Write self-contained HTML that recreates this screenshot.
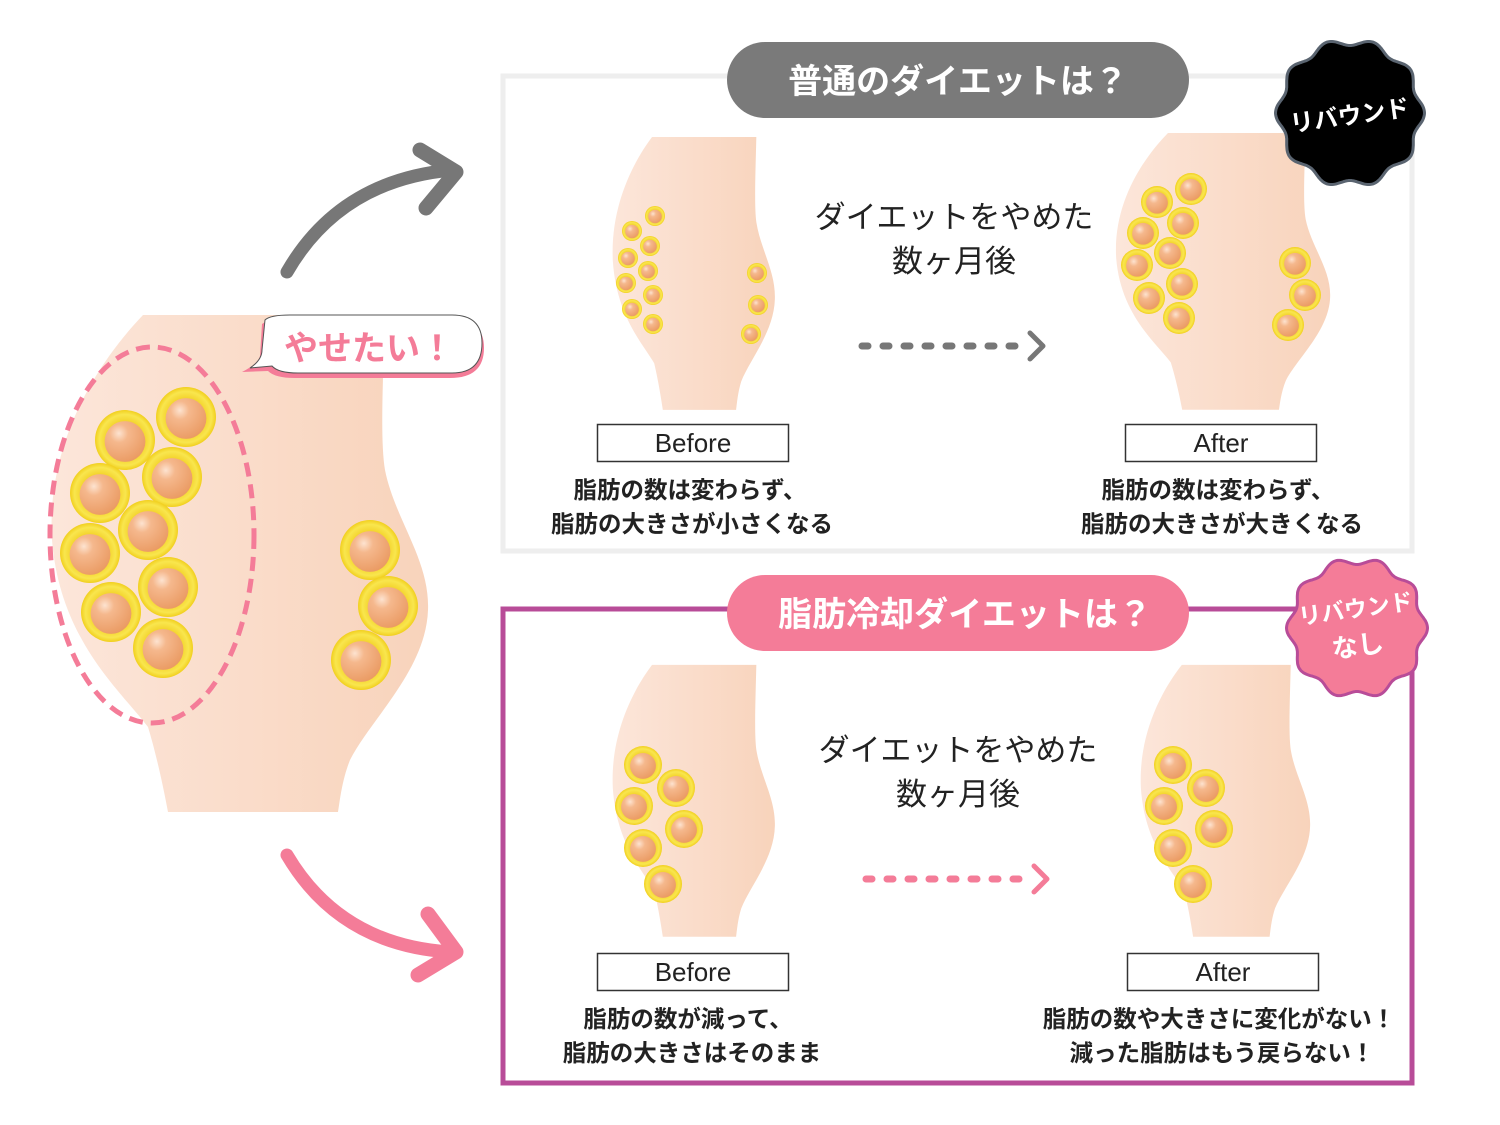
<!DOCTYPE html>
<html><head><meta charset="utf-8">
<style>
html,body{margin:0;padding:0;background:#fff;}
svg{display:block;}
text{font-family:"Liberation Sans","Noto Sans CJK JP",sans-serif;}
.jp{font-family:"Noto Sans CJK JP",sans-serif;}
</style></head>
<body>
<svg id="s" width="1500" height="1125" viewBox="0 0 1500 1125" xmlns="http://www.w3.org/2000/svg">
<defs>
<linearGradient id="skin" x1="0" y1="0" x2="1" y2="0">
<stop offset="0" stop-color="#fce6da"/><stop offset="1" stop-color="#f8d3bb"/>
</linearGradient>
<radialGradient id="ring" cx="0.5" cy="0.5" r="0.5">
<stop offset="0.6" stop-color="#f3d22a"/><stop offset="0.85" stop-color="#f9e64e"/><stop offset="1" stop-color="#f1cf1e"/>
</radialGradient>
<radialGradient id="core" cx="0.35" cy="0.3" r="0.75">
<stop offset="0" stop-color="#fde3d0"/><stop offset="0.3" stop-color="#f5b88d"/><stop offset="1" stop-color="#ea9a62"/>
</radialGradient>
<path id="body" d="M143,315 L385,315 C383,380 380,440 385,470 C395,520 430,560 428,610 C426,670 370,720 350,760 C342,780 340,800 338,812 L168,812 C162,780 155,750 148,727 C120,690 60,640 52,540 C46,440 100,360 143,315 Z"/>
</defs>

<rect x="503" y="76" width="909" height="475" fill="none" stroke="#eeeeee" stroke-width="5"/>
<rect x="503" y="609" width="909" height="474" fill="none" stroke="#b84c98" stroke-width="5"/>

<use href="#body" fill="url(#skin)"/>
<use href="#body" fill="url(#skin)" transform="translate(590.4,-35.9) scale(0.431,0.549)"/>
<use href="#body" fill="url(#skin)" transform="translate(1086.6,-42.5) scale(0.569,0.557)"/>
<use href="#body" fill="url(#skin)" transform="translate(590.4,492.6) scale(0.431,0.547)"/>
<use href="#body" fill="url(#skin)" transform="translate(1117.5,492.6) scale(0.45,0.547)"/>

<g id="cells"></g>

<ellipse cx="152" cy="535" rx="102" ry="188" fill="none" stroke="#f47c98" stroke-width="5" stroke-dasharray="14,8"/>

<path d="M262,324 Q270,318 290,318 L450,318 Q484,318 484,348 Q484,378 450,378 L295,378 Q275,378 268,371 L242,372 Q258,364 260,356 Z" fill="#f47c98"/>
<path d="M265,320 Q270,315 290,315 L452,315 Q482,315 482,343 Q482,373 452,373 L298,373 Q278,373 272,366 L250,368 Q262,360 262,350 Z" fill="#fff" stroke="#555" stroke-width="1"/>
<text x="284" y="360" class="jp" font-size="34" font-weight="bold" fill="#f47c98">やせたい！</text>

<path d="M287,272 Q340,180 452,170" fill="none" stroke="#777" stroke-width="13" stroke-linecap="round"/>
<path d="M420,150 L456,172 L426,208" fill="none" stroke="#777" stroke-width="15" stroke-linecap="round" stroke-linejoin="round"/>
<path d="M287,855 Q340,945 450,952" fill="none" stroke="#f47c98" stroke-width="13" stroke-linecap="round"/>
<path d="M428,914 L456,952 L418,975" fill="none" stroke="#f47c98" stroke-width="15" stroke-linecap="round" stroke-linejoin="round"/>

<rect x="727" y="42" width="462" height="76" rx="38" fill="#7a7a7a"/>
<text x="958" y="93" text-anchor="middle" class="jp" font-size="34" font-weight="bold" fill="#fff">普通のダイエットは？</text>
<rect x="727" y="575" width="462" height="76" rx="38" fill="#f47c98"/>
<text x="965" y="626" text-anchor="middle" class="jp" font-size="34" font-weight="bold" fill="#fff">脂肪冷却ダイエットは？</text>

<path id="b1" fill="#000" stroke="#5a6470" stroke-width="3"/>
<text x="1350" y="124" text-anchor="middle" class="jp" font-size="24" font-weight="bold" fill="#fff" transform="rotate(-8 1350 118)">リバウンド</text>
<path id="b2" fill="#f47c98" stroke="#b84c98" stroke-width="3"/>
<text x="1356" y="617" text-anchor="middle" class="jp" font-size="23" font-weight="bold" fill="#fff" transform="rotate(-8 1356 612)">リバウンド</text>
<text x="1358" y="655" text-anchor="middle" class="jp" font-size="26" font-weight="bold" fill="#fff" transform="rotate(-8 1358 648)">なし</text>

<text x="954" y="228" text-anchor="middle" class="jp" font-size="31" fill="#222">ダイエットをやめた</text>
<text x="954" y="272" text-anchor="middle" class="jp" font-size="31" fill="#222">数ヶ月後</text>
<text x="958" y="761" text-anchor="middle" class="jp" font-size="31" fill="#222">ダイエットをやめた</text>
<text x="958" y="805" text-anchor="middle" class="jp" font-size="31" fill="#222">数ヶ月後</text>

<line x1="862" y1="346" x2="1030" y2="346" stroke="#777" stroke-width="7" stroke-linecap="round" stroke-dasharray="6,15"/>
<path d="M1030,333 L1043,346 L1030,359" fill="none" stroke="#777" stroke-width="5" stroke-linecap="round" stroke-linejoin="round"/>
<line x1="866" y1="879" x2="1034" y2="879" stroke="#f47c98" stroke-width="7" stroke-linecap="round" stroke-dasharray="6,15"/>
<path d="M1034,866 L1047,879 L1034,892" fill="none" stroke="#f47c98" stroke-width="5" stroke-linecap="round" stroke-linejoin="round"/>

<rect x="597.5" y="424.5" width="191" height="37" fill="#fff" stroke="#333" stroke-width="1.5"/>
<text x="693" y="452" text-anchor="middle" font-size="26" fill="#222">Before</text>
<rect x="1125.5" y="424.5" width="191" height="37" fill="#fff" stroke="#333" stroke-width="1.5"/>
<text x="1221" y="452" text-anchor="middle" font-size="26" fill="#222">After</text>
<rect x="597.5" y="953.5" width="191" height="37" fill="#fff" stroke="#333" stroke-width="1.5"/>
<text x="693" y="981" text-anchor="middle" font-size="26" fill="#222">Before</text>
<rect x="1127.5" y="953.5" width="191" height="37" fill="#fff" stroke="#333" stroke-width="1.5"/>
<text x="1223" y="981" text-anchor="middle" font-size="26" fill="#222">After</text>

<g class="jp" font-size="23.5" font-weight="bold" fill="#222" text-anchor="middle">
<text x="690" y="498" class="jp">脂肪の数は変わらず、</text>
<text x="692" y="532" class="jp">脂肪の大きさが小さくなる</text>
<text x="1218" y="498" class="jp">脂肪の数は変わらず、</text>
<text x="1222" y="532" class="jp">脂肪の大きさが大きくなる</text>
<text x="688" y="1027" class="jp">脂肪の数が減って、</text>
<text x="692" y="1061" class="jp">脂肪の大きさはそのまま</text>
<text x="1219" y="1027" class="jp">脂肪の数や大きさに変化がない！</text>
<text x="1222" y="1061" class="jp">減った脂肪はもう戻らない！</text>
</g>
</svg>
<script>
var NS="http://www.w3.org/2000/svg";
var g=document.getElementById("cells");
function cell(x,y,r){
 var c=document.createElementNS(NS,"circle");c.setAttribute("cx",x);c.setAttribute("cy",y);c.setAttribute("r",r);c.setAttribute("fill","url(#ring)");g.appendChild(c);
 var d=document.createElementNS(NS,"circle");d.setAttribute("cx",x);d.setAttribute("cy",y+r*0.05);d.setAttribute("r",r*0.68);d.setAttribute("fill","url(#core)");g.appendChild(d);
}
[[125,440],[186,417],[100,493],[172,477],[148,530],[90,553],[168,587],[111,612],[163,648],[370,550],[388,606],[361,660]].forEach(function(p){cell(p[0],p[1],30);});
[[655,216],[632,231],[650,246],[628,258],[648,271],[626,283],[653,295],[632,309],[653,324],[757,273],[758,305],[751,334]].forEach(function(p){cell(p[0],p[1],10);});
[[1191,189],[1157,202],[1183,223],[1143,233],[1170,253],[1137,265],[1182,284],[1149,298],[1179,318],[1295,263],[1305,295],[1288,325]].forEach(function(p){cell(p[0],p[1],16);});
[[643,765],[676,788],[634,806],[684,829],[643,848],[663,884]].forEach(function(p){cell(p[0],p[1],19);cell(p[0]+530,p[1],19);});
function wavy(id,cx,cy,R,a,n){
 var s="";for(var i=0;i<=360;i++){var t=i*Math.PI/180;var r=R+a*Math.cos(n*t);var x=cx+r*Math.cos(t),y=cy+r*Math.sin(t);s+=(i?"L":"M")+x.toFixed(1)+","+y.toFixed(1);}
 document.getElementById(id).setAttribute("d",s+"Z");
}
wavy("b1",1350,113,71,3.5,10);
wavy("b2",1357,628,67,3.5,10);
</script>
</body></html>
